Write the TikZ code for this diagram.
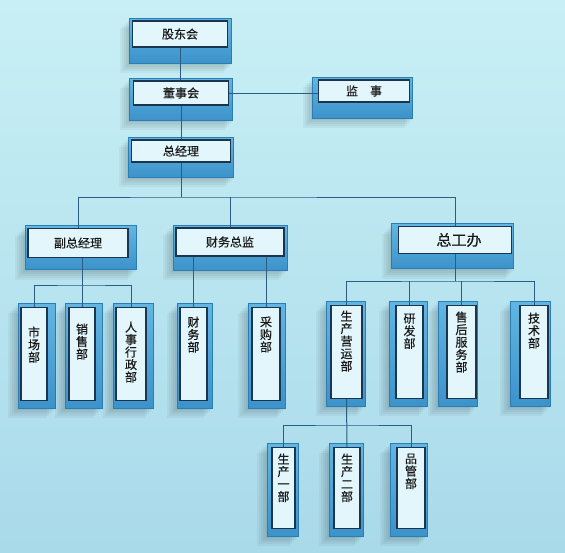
\documentclass[tikz,border=0pt]{standalone}
\usepackage{fontspec}
\setmainfont{Noto Sans CJK SC}[FakeBold=0.6]
\usetikzlibrary{calc}

\definecolor{bgtop}{HTML}{C8EFF5}
\definecolor{bgbot}{HTML}{A9DAEA}
\definecolor{blocktop}{HTML}{62B6E2}
\definecolor{blockbot}{HTML}{3C93CA}
\definecolor{blockdraw}{HTML}{2C7DB4}
\definecolor{facefill}{HTML}{E2F6FC}
\definecolor{facedraw}{HTML}{1B3550}
\definecolor{linkcol}{HTML}{2A5C86}

\tikzset{
    face/.style={draw=facedraw, fill=facefill, line width=1.1pt, inner sep=0pt, text=black!90, font=\fontsize{12}{12.5}\selectfont},
    block/.style={top color=blocktop, bottom color=blockbot, draw=blockdraw, line width=0.6pt},
    link/.style={draw=linkcol, line width=1pt},
}

% #1 name, #2 cx, #3 cy, #4 w, #5 h, #6 left, #7 right, #8 depth, #9 text
\newcommand{\hunit}[9]{%
    \foreach \s in {1,...,5} \fill[black, opacity=0.04] ({#2-#4/2-#6-2*\s},{#3-#5/2-3+2*\s}) rectangle ({#2+#4/2+#7-2*\s+2},{#3+#5/2+#8+2*\s});
    \path[block] ({#2-#4/2-#6},{#3-#5/2-3}) rectangle ({#2+#4/2+#7},{#3+#5/2+#8});
    \node[face, minimum width=#4pt, minimum height=#5pt] (#1) at (#2,#3) {#9};
}
% #1 name, #2 cx, #3 top, #4 w, #5 h, #6 left, #7 right, #8 gap, #9 text
\newcommand{\vunit}[9]{%
    \foreach \s in {1,...,5} \fill[black, opacity=0.04] ({#2-#4/2-#6-2*\s},{#3-4+2*\s}) rectangle ({#2+#4/2+#7-2*\s+2},{#3+#5+8+2*\s});
    \path[block] ({#2-#4/2-#6},{#3-4}) rectangle ({#2+#4/2+#7},{#3+#5+8});
    \node[face, anchor=north] (#1) at (#2,#3) {\parbox[c][#5pt][t]{#4pt}{\centering\vspace*{#8pt}#9}};
}

\begin{document}
\begin{tikzpicture}[x=1pt, y=-1pt]
    \useasboundingbox (0,0) rectangle (565,552);
    \shade[top color=bgtop, bottom color=bgbot] (0,0) rectangle (565,552);

    \hunit{gd}{180}{34}{95}{26}{3}{4}{16}{股东会\hspace{12pt}}
    \hunit{dsh}{181}{93}{95}{24}{4}{4}{15}{董事会}
    \hunit{js}{364}{91}{91}{22}{6}{3}{16}{监\hspace{12pt}事\hspace{10pt}}
    \hunit{zjl}{181}{151}{99}{22}{3}{3}{15}{总经理\hspace{10pt}}
    \hunit{fz}{78}{243}{100}{29}{3}{8}{12}{副总经理}
    \hunit{cwzj}{230}{242}{108}{28}{3}{3}{14}{财务总监}
    \hunit{zgb}{455}{240}{113}{27}{7}{2}{15}{\fontsize{15}{16}\selectfont\hspace{8pt}总工办}

    \vunit{scb}{34}{307}{26}{93}{3}{8}{19}{市\\场\\部}
    \vunit{xsb}{82}{307}{26}{93}{4}{7}{16}{销\\售\\部}
    \vunit{rsb}{131}{307}{30}{93}{3}{7}{14}{人\\事\\行\\政\\部}
    \vunit{cwb}{193.5}{307}{27}{93}{3}{5}{9}{财\\务\\部}
    \vunit{cgb}{266}{307}{28}{93}{4}{5}{9}{采\\购\\部}
    \vunit{yyb}{346.5}{305}{31}{93}{5}{3}{5}{生\\产\\营\\运\\部}
    \vunit{yfb}{409.5}{305}{27}{93}{7}{4}{8}{研\\发\\部}
    \vunit{shb}{461.5}{305}{29}{93}{9}{1}{6}{售\\后\\服\\务\\部}
    \vunit{jsb}{534}{305}{28}{93}{10}{2}{7}{技\\术\\部}
    \vunit{sc1}{283.5}{447}{23}{81}{5}{3}{6}{生\\产\\一\\部}
    \vunit{sc2}{347}{447}{26}{81}{5}{3}{6}{生\\产\\二\\部}
    \vunit{pgb}{411}{447}{28}{81}{7}{2}{6}{品\\管\\部}

    \coordinate (zjlbus) at (181,197);
    \coordinate (fzbus) at (80,285);
    \coordinate (zgbbus) at (455,281);
    \coordinate (yybbus) at (347,425);

    \draw[link] (gd.south) -- (gd.south |- dsh.north);
    \draw[link] (dsh.south) -- (dsh.south |- zjl.north);
    \draw[link] (dsh.east) -- (dsh.east -| js.west);
    \draw[link] (zjl.south) -- (zjlbus);
    \draw[link] (fz.north) |- (zjlbus) -| (zgb.north);
    \draw[link] (cwzj.north) -- (cwzj.north |- zjlbus);
    \draw[link] (scb.north) |- (fzbus) -| (rsb.north);
    \draw[link] (xsb.north) -- (xsb.north |- fz.south);
    \draw[link] (cwb.north) -- (cwb.north |- cwzj.south);
    \draw[link] (cgb.north) -- (cgb.north |- cwzj.south);
    \draw[link] (yyb.north) |- (zgbbus) -| (jsb.north);
    \draw[link] (zgb.south) -- (zgbbus);
    \draw[link] (yfb.north) -- (yfb.north |- zgbbus);
    \draw[link] (shb.north) -- (shb.north |- zgbbus);
    \draw[link] (sc1.north) |- (yybbus) -| (pgb.north);
    \draw[link] (yyb.south) -- (sc2.north);
\end{tikzpicture}
\end{document}
